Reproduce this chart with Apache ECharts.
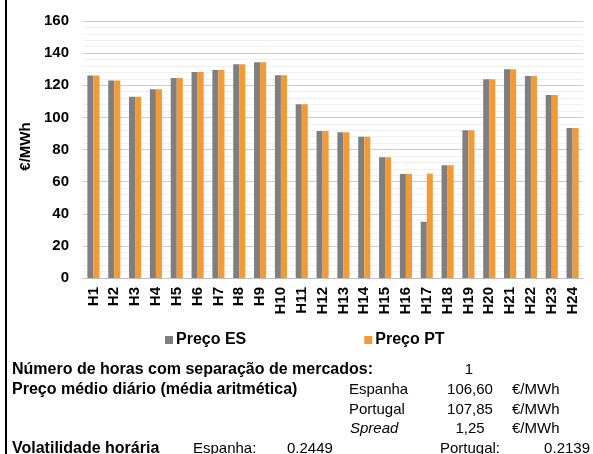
<!DOCTYPE html>
<html>
<head>
<meta charset="utf-8">
<script src="https://cdn.jsdelivr.net/npm/echarts/dist/echarts.min.js"></script>
<style>
  html, body { margin: 0; padding: 0; background: #fff; }
  #chart { width: 593px; height: 454px; }
</style>
</head>
<body>
<div id="chart"></div>
<script>
// horas do dia
var horas = ['H1','H2','H3','H4','H5','H6','H7','H8','H9','H10','H11','H12',
  'H13','H14','H15','H16','H17','H18','H19','H20','H21','H22','H23','H24'];
// preços (€/MWh)
var precoES = [126.0,122.9,112.9,117.5,124.5,128.3,129.5,133.1,134.3,126.2,108.2,91.5,
  90.7,88.0,75.2,64.8,35.0,70.2,92.0,123.7,129.9,125.8,114.0,93.4];
var precoPT = [126.0,122.9,112.9,117.5,124.5,128.3,129.5,133.1,134.3,126.2,108.2,91.5,
  90.7,88.0,75.2,64.8,65.0,70.2,92.0,123.7,129.9,125.8,114.0,93.4];
var ticksY = [0, 160, 20];

var fonte = 'Liberation Sans, Arial, sans-serif';
var myChart = echarts.init(document.getElementById('chart'));

// textos do quadro de baixo
function txt(x, y, s, opts) {
  opts = opts || {};
  return {
    type: 'text', x: x, y: y,
    style: {
      text: s, fill: '#000', fontFamily: fonte,
      fontSize: opts.bold ? 16 : 15,
      fontWeight: opts.bold ? 'bold' : 'normal',
      fontStyle: opts.italic ? 'italic' : 'normal',
      textAlign: opts.align || 'left', textVerticalAlign: 'middle'
    }
  };
}

var option = {
  animation: false,
  grid: { left: 83, right: 10, top: 21, bottom: 176 },
  legend: {
    data: ['Preço ES', 'Preço PT'],
    left: 160, top: 327,
    itemWidth: 8, itemHeight: 8, itemGap: 118,
    icon: 'rect',
    textStyle: { fontFamily: fonte, fontSize: 16, fontWeight: 'bold', color: '#000', padding: [0, 0, 0, -2] }
  },
  xAxis: {
    type: 'category',
    data: horas,
    axisLine: { lineStyle: { color: '#bfbfbf', width: 1 } },
    axisTick: { show: false },
    axisLabel: { rotate: 90, fontFamily: fonte, fontSize: 15, fontWeight: 'bold', color: '#000', margin: 9 }
  },
  yAxis: {
    type: 'value',
    min: ticksY[0], max: ticksY[1], interval: ticksY[2],
    name: '€/MWh', nameLocation: 'middle', nameGap: 47,
    nameTextStyle: { fontFamily: fonte, fontSize: 15, fontWeight: 'bold', color: '#000', padding: [0, 0, 0, 6] },
    axisLine: { show: false },
    axisTick: { show: false },
    axisLabel: { fontFamily: fonte, fontSize: 15, fontWeight: 'bold', color: '#000', margin: 14 },
    splitLine: { lineStyle: { color: '#cccccc', width: 1 } },
    minorTick: { show: false, splitNumber: 5 },
    minorSplitLine: { show: true, lineStyle: { color: '#f0f0f0', width: 1 } }
  },
  series: [
    { name: 'Preço ES', type: 'bar', data: precoES, barGap: '0%', barCategoryGap: '42%',
      itemStyle: { color: '#7f7f7f' } },
    { name: 'Preço PT', type: 'bar', data: precoPT, barGap: '0%', barCategoryGap: '42%',
      itemStyle: { color: '#f39a35' } }
  ],
  graphic: [
    { type: 'rect', shape: { x: 5, y: 0, width: 2, height: 454 }, style: { fill: '#000' } },
    txt(12, 370, 'Número de horas com separação de mercados:', { bold: true }),
    txt(469, 370, '1', { align: 'center' }),
    txt(12, 390, 'Preço médio diário (média aritmética)', { bold: true }),
    txt(349, 390, 'Espanha'),
    txt(470, 390, '106,60', { align: 'center' }),
    txt(512, 390, '€/MWh'),
    txt(349, 410, 'Portugal'),
    txt(470, 410, '107,85', { align: 'center' }),
    txt(512, 410, '€/MWh'),
    txt(350, 429, 'Spread', { italic: true }),
    txt(470, 429, '1,25', { align: 'center' }),
    txt(512, 429, '€/MWh'),
    txt(12, 449, 'Volatilidade horária', { bold: true }),
    txt(193, 449, 'Espanha:'),
    txt(287, 449, '0.2449'),
    txt(440, 449, 'Portugal:'),
    txt(590, 449, '0.2139', { align: 'right' })
  ]
};
myChart.setOption(option);
</script>
</body>
</html>
